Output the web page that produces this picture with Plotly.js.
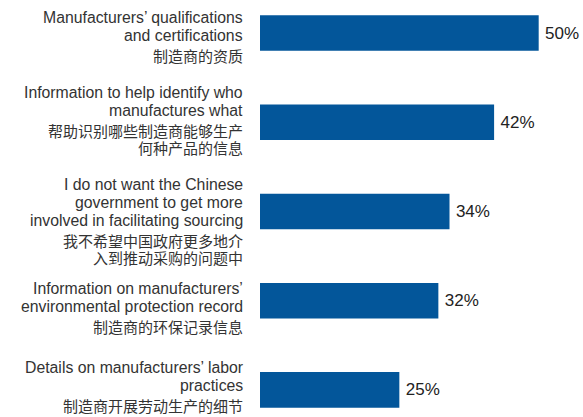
<!DOCTYPE html>
<html>
<head>
<meta charset="utf-8">
<script src="https://cdn.plot.ly/plotly-3.0.1.min.js"></script>
<style>html,body{margin:0;padding:0;background:#fff;}#chart{width:583px;height:417px;}</style>
</head>
<body>
<div id="chart"></div>
<script>
var englishLabels = [
  ["Manufacturers’ qualifications", "and certifications"],
  ["Information to help identify who", "manufactures what"],
  ["I do not want the Chinese", "government to get more", "involved in facilitating sourcing"],
  ["Information on manufacturers’", "environmental protection record"],
  ["Details on manufacturers’ labor", "practices"]
];
var chineseLabels = [
  ["制造商的资质"],
  ["帮助识别哪些制造商能够生产", "何种产品的信息"],
  ["我不希望中国政府更多地介", "入到推动采购的问题中"],
  ["制造商的环保记录信息"],
  ["制造商开展劳动生产的细节"]
];
var values = [50, 42, 34, 32, 25];
var valueLabels = ["50%", "42%", "34%", "32%", "25%"];

var idx = values.map(function(_, i){ return i; });

var trace = {
  type: 'bar',
  orientation: 'h',
  x: values,
  y: idx,
  width: 0.4,
  marker: {color: '#03569A'},
  text: valueLabels,
  texttemplate: '\u2009%{text}',
  textposition: 'outside',
  textfont: {family: 'Liberation Sans, Arial, sans-serif', size: 17, color: '#222'},
  cliponaxis: false,
  hoverinfo: 'none'
};

// layout of label lines (pixels, relative to bar centre; positive = down)
var firstLineOffset = [-16, -30, -26.5, -12, -22];
var engStep = 18, gapToCn = 20, cnStep = 17;

var annotations = [];
idx.forEach(function(i){
  var d = firstLineOffset[i];
  englishLabels[i].forEach(function(line, k){
    if (k > 0) d += engStep;
    annotations.push({
      xref: 'paper', yref: 'y', x: 0, y: i,
      xanchor: 'right', yanchor: 'middle',
      xshift: -15, yshift: -d,
      showarrow: false, text: line,
      font: {family: 'Liberation Sans, Arial, sans-serif', size: 15.8, color: '#333'}
    });
  });
  chineseLabels[i].forEach(function(line, k){
    d += (k === 0 ? gapToCn : cnStep);
    annotations.push({
      xref: 'paper', yref: 'y', x: 0, y: i,
      xanchor: 'right', yanchor: 'middle',
      xshift: -15, yshift: -d,
      showarrow: false, text: line,
      font: {family: 'Noto Sans CJK SC, sans-serif', size: 15, color: '#333'}
    });
  });
});

var layout = {
  width: 583, height: 417,
  margin: {l: 260, r: 0, t: 0, b: 0, pad: 0},
  paper_bgcolor: '#fff', plot_bgcolor: '#fff',
  showlegend: false,
  xaxis: {range: [0, 57.95], visible: false, fixedrange: true},
  yaxis: {range: [4.303, -0.37], visible: false, fixedrange: true},
  annotations: annotations
};

Plotly.newPlot('chart', [trace], layout, {staticPlot: true, displayModeBar: false});
</script>
</body>
</html>
